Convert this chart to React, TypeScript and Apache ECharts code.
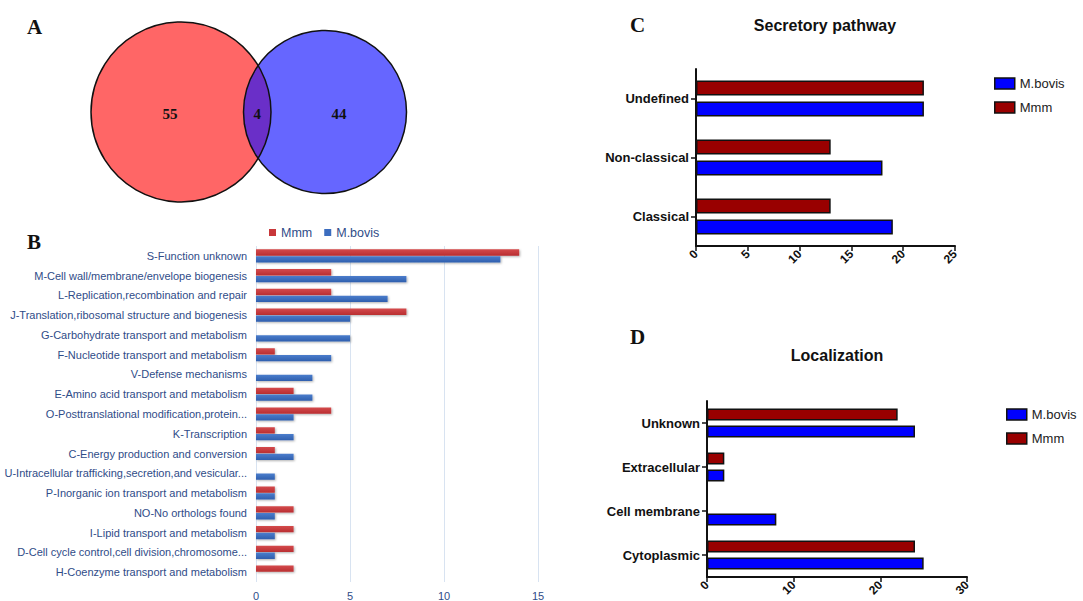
import React, { useEffect, useRef } from "react";
import * as echarts from "echarts";

// ---------- data ----------
const vennSets = ["Mmm", "M.bovis"];
const vennCounts = [55, 4, 44]; // Mmm only, shared, M.bovis only

const cogCategories = [
  "S-Function unknown",
  "M-Cell wall/membrane/envelope biogenesis",
  "L-Replication,recombination and repair",
  "J-Translation,ribosomal structure and biogenesis",
  "G-Carbohydrate transport and metabolism",
  "F-Nucleotide transport and metabolism",
  "V-Defense mechanisms",
  "E-Amino acid transport and metabolism",
  "O-Posttranslational modification,protein...",
  "K-Transcription",
  "C-Energy production and conversion",
  "U-Intracellular trafficking,secretion,and vesicular...",
  "P-Inorganic ion transport and metabolism",
  "NO-No orthologs found",
  "I-Lipid transport and metabolism",
  "D-Cell cycle control,cell division,chromosome...",
  "H-Coenzyme transport and metabolism",
];
const cogMmm = [14, 4, 4, 8, 0, 1, 0, 2, 4, 1, 1, 0, 1, 2, 2, 2, 2];
const cogBovis = [13, 8, 7, 5, 5, 4, 3, 3, 2, 2, 2, 1, 1, 1, 1, 1, 0];
const cogAxis = { min: 0, max: 15, interval: 5 };

const secCategories = ["Undefined", "Non-classical", "Classical"];
const secMmm = [22, 13, 13];
const secBovis = [22, 18, 19];
const secAxis = { min: 0, max: 25, interval: 5 };

const locCategories = ["Unknown", "Extracellular", "Cell membrane", "Cytoplasmic"];
const locMmm = [22, 2, 0, 24];
const locBovis = [24, 2, 8, 25];
const locAxis = { min: 0, max: 30, interval: 10 };

// ---------- layout / style ----------
const SANS = '"Liberation Sans", Arial, sans-serif';
const SERIF = '"Liberation Serif", "Times New Roman", serif';
const C1 = { x: 181, y: 112, r: 90 };
const C2 = { x: 325, y: 112, r: 81.5 };

function lensPath() {
  const d = C2.x - C1.x;
  const a = (d * d + C1.r * C1.r - C2.r * C2.r) / (2 * d);
  const h = Math.sqrt(C1.r * C1.r - a * a);
  const ix = C1.x + a;
  const top = C1.y - h;
  const bot = C1.y + h;
  return `M${ix} ${top}A${C2.r} ${C2.r} 0 0 0 ${ix} ${bot}A${C1.r} ${C1.r} 0 0 0 ${ix} ${top}Z`;
}
echarts.graphic.registerShape("vennLens", echarts.graphic.extendPath(lensPath(), {}));

const B_RED = "#C8373A";
const B_BLUE = "#3C6DBF";
const B_TEXT = "#2F4C88";
const G_RED = "#990000";
const G_BLUE = "#0000FF";

function bGrad(c1: string, c2: string) {
  return new echarts.graphic.LinearGradient(0, 0, 0, 1, [
    { offset: 0, color: c1 },
    { offset: 1, color: c2 },
  ]);
}

function gpAxisX(ax: any, idx: number) {
  return {
    type: "value",
    gridIndex: idx,
    min: ax.min,
    max: ax.max,
    interval: ax.interval,
    axisLine: { show: true, lineStyle: { color: "#111", width: 2 } },
    axisTick: { show: true, length: 5, lineStyle: { color: "#111", width: 1.5 } },
    axisLabel: {
      rotate: 45,
      margin: 6,
      fontSize: 12,
      fontWeight: "bold",
      color: "#111",
      fontFamily: SANS,
    },
    splitLine: { show: false },
  };
}
function gpAxisY(cats: string[], idx: number) {
  return {
    type: "category",
    gridIndex: idx,
    data: cats,
    inverse: true,
    axisLine: { show: true, lineStyle: { color: "#111", width: 2 } },
    axisTick: { show: true, length: 5, alignWithLabel: true, lineStyle: { color: "#111", width: 1.5 } },
    axisLabel: { margin: 7, fontSize: 13, fontWeight: "bold", color: "#111", fontFamily: SANS },
  };
}
function gpLegend(left: number, top: number) {
  return {
    orient: "vertical",
    left,
    top,
    icon: "rect",
    itemWidth: 20,
    itemHeight: 11,
    itemGap: 11,
    selectedMode: false,
    textStyle: { fontSize: 13, color: "#222", fontFamily: SANS },
    data: [
      { name: "M.bovis", itemStyle: { color: G_BLUE, borderColor: "#111", borderWidth: 1.5 } },
      { name: "Mmm", itemStyle: { color: G_RED, borderColor: "#111", borderWidth: 1.5 } },
    ],
  };
}
function gpSeries(name: string, data: number[], color: string, idx: number, bw: number) {
  return {
    type: "bar",
    name,
    xAxisIndex: idx,
    yAxisIndex: idx,
    data: data.map((v) => (v === 0 ? null : v)),
    barWidth: bw,
    barGap: "40%",
    itemStyle: { color, borderColor: "#111", borderWidth: 1.5 },
  };
}
function letter(t: string, x: number, y: number) {
  return {
    type: "text",
    x,
    y,
    z: 20,
    style: { text: t, font: `bold 21px ${SERIF}`, fill: "#111", textAlign: "left", textVerticalAlign: "middle" },
  };
}

export default function App() {
  const ref = useRef<HTMLDivElement>(null);
  useEffect(() => {
    if (!ref.current) return;
    const chart = echarts.init(ref.current, undefined, { renderer: "svg" });
    const vennX = [C1.x - 11, (C1.x + C1.r + C2.x - C2.r) / 2, C2.x + 14];
    const bShadow = { shadowBlur: 2, shadowColor: "rgba(0,0,0,0.3)", shadowOffsetX: 1, shadowOffsetY: 1 };
    const option: any = {
      animation: false,
      backgroundColor: "#fff",
      grid: [
        { left: 256, top: 246, width: 282, height: 336 },
        { left: 696, top: 69, width: 259, height: 177 },
        { left: 707, top: 401, width: 260, height: 176 },
      ],
      legend: [
        {
          left: 264,
          top: 221,
          icon: "rect",
          itemWidth: 7,
          itemHeight: 7,
          itemGap: 12,
          selectedMode: false,
          textStyle: { fontSize: 12.5, color: B_TEXT, fontFamily: SANS },
          data: [
            { name: "Mmm", itemStyle: { color: B_RED } },
            { name: "M.bovis", itemStyle: { color: B_BLUE } },
          ],
        },
        gpLegend(989, 72),
        gpLegend(1001, 403),
      ],
      xAxis: [
        {
          type: "value",
          gridIndex: 0,
          min: cogAxis.min,
          max: cogAxis.max,
          interval: cogAxis.interval,
          axisLine: { show: false },
          axisTick: { show: false },
          axisLabel: { color: B_TEXT, fontSize: 11, margin: 8, fontFamily: SANS },
          splitLine: { show: true, lineStyle: { color: "#D8E3F1", width: 1 } },
        },
        gpAxisX(secAxis, 1),
        gpAxisX(locAxis, 2),
      ],
      yAxis: [
        {
          type: "category",
          gridIndex: 0,
          data: cogCategories,
          inverse: true,
          axisLine: { show: false },
          axisTick: { show: false },
          axisLabel: { color: B_TEXT, fontSize: 11, margin: 9, fontFamily: SANS },
        },
        gpAxisY(secCategories, 1),
        gpAxisY(locCategories, 2),
      ],
      series: [
        {
          type: "bar",
          name: "Mmm",
          xAxisIndex: 0,
          yAxisIndex: 0,
          data: cogMmm,
          barWidth: 6.3,
          barGap: "8%",
          itemStyle: { color: bGrad("#D44A4C", "#B92E31"), ...bShadow },
        },
        {
          type: "bar",
          name: "M.bovis",
          xAxisIndex: 0,
          yAxisIndex: 0,
          data: cogBovis,
          barWidth: 6.3,
          barGap: "8%",
          itemStyle: { color: bGrad("#4B7DCC", "#2F5FAE"), ...bShadow },
        },
        gpSeries("Mmm", secMmm, G_RED, 1, 15),
        gpSeries("M.bovis", secBovis, G_BLUE, 1, 15),
        gpSeries("Mmm", locMmm, G_RED, 2, 12),
        gpSeries("M.bovis", locBovis, G_BLUE, 2, 12),
      ],
      graphic: [
        { type: "circle", z: 10, shape: { cx: C1.x, cy: C1.y, r: C1.r }, style: { fill: "#FF6666" } },
        { type: "circle", z: 11, shape: { cx: C2.x, cy: C2.y, r: C2.r }, style: { fill: "#6666FF" } },
        { type: "vennLens", z: 12, x: 0, y: 0, style: { fill: "#6A2FC8" } },
        {
          type: "circle",
          z: 13,
          shape: { cx: C1.x, cy: C1.y, r: C1.r },
          style: { fill: "none", stroke: "#111", lineWidth: 1.5 },
        },
        {
          type: "circle",
          z: 13,
          shape: { cx: C2.x, cy: C2.y, r: C2.r },
          style: { fill: "none", stroke: "#111", lineWidth: 1.5 },
        },
        ...vennCounts.map((c, i) => ({
          type: "text",
          x: vennX[i],
          y: C1.y + 2,
          z: 14,
          style: {
            text: String(c),
            font: `bold 15px ${SERIF}`,
            fill: "#111",
            textAlign: "center",
            textVerticalAlign: "middle",
          },
        })),
        letter("A", 27, 27),
        letter("B", 27, 242),
        letter("C", 630, 25),
        letter("D", 630, 337),
        {
          type: "text",
          x: 825,
          y: 25,
          z: 20,
          style: {
            text: "Secretory pathway",
            font: `bold 16px ${SANS}`,
            fill: "#111",
            textAlign: "center",
            textVerticalAlign: "middle",
          },
        },
        {
          type: "text",
          x: 837,
          y: 355,
          z: 20,
          style: {
            text: "Localization",
            font: `bold 16px ${SANS}`,
            fill: "#111",
            textAlign: "center",
            textVerticalAlign: "middle",
          },
        },
      ],
    };
    chart.setOption(option);
    return () => chart.dispose();
  }, []);
  return (
    <div
      ref={ref}
      data-sets={vennSets.join(",")}
      style={{ position: "fixed", left: 0, top: 0, width: 1083, height: 601, background: "#fff" }}
    />
  );
}
